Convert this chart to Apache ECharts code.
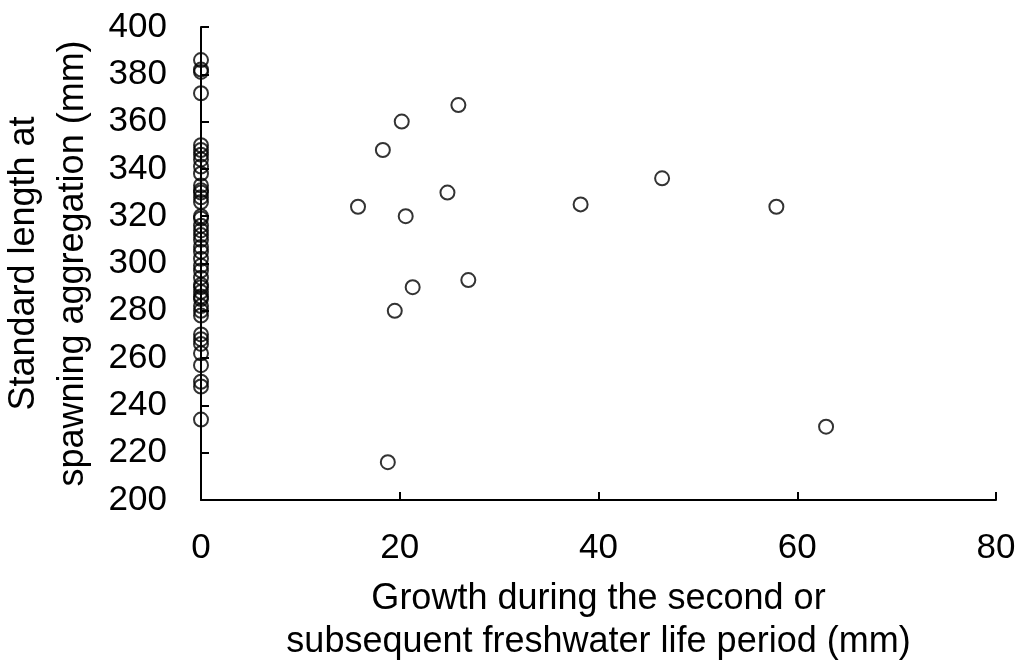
<!DOCTYPE html>
<html>
<head>
<meta charset="utf-8">
<script src="https://cdn.jsdelivr.net/npm/echarts@6/dist/echarts.min.js"></script>
<style>
  html, body { margin: 0; padding: 0; background: #ffffff; }
  #chart { width: 1022px; height: 666px; }
</style>
</head>
<body>
<div id="chart"></div>
<script>
// Growth during the second or subsequent freshwater life period (mm)
const growth = [
  0, 0, 0, 0,
  0, 0, 0, 0, 0, 0, 0, 0, 0, 0, 0, 0, 0, 0, 0, 0, 0, 0, 0, 0, 0, 0, 0, 0, 0, 0, 0, 0, 0, 0, 0,
  0, 0, 0, 0, 0, 0, 0, 0,
  15.8, 18.3, 20.2, 25.9, 20.6, 24.8, 21.3, 26.9, 19.5, 18.8, 38.2, 46.4, 57.9, 62.9
];
// Standard length at spawning aggregation (mm)
const standardLength = [
  386, 382, 381, 372,
  350, 348, 346, 344, 341, 338, 333, 331, 330, 328, 326, 320, 319, 316, 314, 312, 310, 307, 305, 302, 299, 297, 294, 291, 290, 288, 286, 285, 282, 280, 278,
  270, 268, 266, 262, 257, 250, 248, 234,
  324, 348, 360, 367, 320, 330, 290, 293, 280, 216, 325, 336, 324, 231
];
const xTicks = [0, 20, 40, 60, 80];
const yTicks = [200, 220, 240, 260, 280, 300, 320, 340, 360, 380, 400];

const points = growth.map((g, i) => [g, standardLength[i]]);

const font = '"Liberation Sans", Arial, sans-serif';
const chart = echarts.init(document.getElementById('chart'));
chart.setOption({
  animation: false,
  backgroundColor: '#ffffff',
  grid: { left: 201, right: 26, top: 27, bottom: 166, containLabel: false, outerBoundsMode: 'none' },
  xAxis: {
    type: 'value',
    min: xTicks[0],
    max: xTicks[xTicks.length - 1],
    interval: 20,
    name: 'Growth during the second or\nsubsequent freshwater life period (mm)',
    nameLocation: 'middle',
    nameGap: 78,
    nameTextStyle: { fontFamily: font, fontSize: 36, color: '#000', lineHeight: 43, verticalAlign: 'top' },
    axisLine: { lineStyle: { color: '#000', width: 2 } },
    axisTick: { inside: true, length: 8, lineStyle: { color: '#000', width: 2 } },
    axisLabel: { fontFamily: font, fontSize: 35, color: '#000', margin: 31 },
    splitLine: { show: false }
  },
  yAxis: {
    type: 'value',
    min: yTicks[0],
    max: yTicks[yTicks.length - 1],
    interval: 20,
    name: 'Standard length at\nspawning aggregation (mm)',
    nameLocation: 'middle',
    nameRotate: 90,
    nameGap: 101,
    nameTextStyle: { fontFamily: font, fontSize: 36, color: '#000', lineHeight: 49 },
    axisLine: { show: true, lineStyle: { color: '#000', width: 2 } },
    axisTick: { show: true, inside: true, length: 8, lineStyle: { color: '#000', width: 2 } },
    axisLabel: { fontFamily: font, fontSize: 35, color: '#000', margin: 34 },
    splitLine: { show: false }
  },
  series: [{
    type: 'scatter',
    data: points,
    symbol: 'circle',
    symbolSize: 14,
    itemStyle: { color: 'rgba(255,255,255,0)', borderColor: '#000', borderWidth: 2 },
    clip: false
  }]
});
</script>
</body>
</html>
